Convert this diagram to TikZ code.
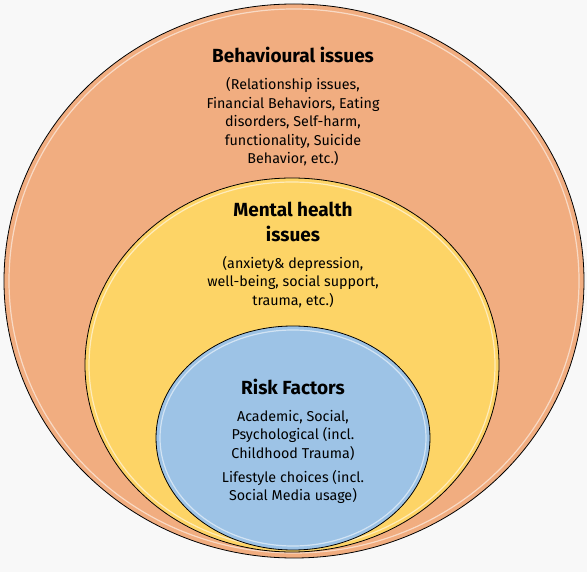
\documentclass[tikz,border=0pt]{standalone}
\usepackage{fontspec}
\setmainfont{Fira Sans}
\usepackage{xcolor}
\usetikzlibrary{shapes}
\definecolor{behav}{HTML}{F1AD80}
\definecolor{mental}{HTML}{FDD466}
\definecolor{risk}{HTML}{9DC3E6}
\definecolor{paper}{HTML}{F8F8F8}
\begin{document}
\begin{tikzpicture}[x=1pt, y=-1pt, ring/.style={draw=black, line width=0.8pt}, shine/.style={draw=white, opacity=0.55, line width=1.2pt}, head/.style={font=\fontsize{19}{25}\selectfont\bfseries, align=center}, body/.style={font=\fontsize{14.3}{18.5}\selectfont, align=center}]
\fill[paper] (0,0) rectangle (587,572);
\useasboundingbox (0,0) rectangle (587,572);
\filldraw[ring, fill=behav] (294,281) ellipse (290 and 277);
\draw[shine] (294,281) ellipse (285 and 272);
\filldraw[ring, fill=mental] (292,365) ellipse (207 and 187);
\draw[shine] (292,365) ellipse (203 and 183);
\filldraw[ring, fill=risk] (293,438) ellipse (137 and 112);
\draw[shine] (293,438) ellipse (133 and 108);
\node[head] (behavtitle) at (293,55) {Behavioural issues};
\node[body] (behavtext) at (293,122) {(Relationship issues,\\Financial Behaviors, Eating\\disorders, Self-harm,\\functionality, Suicide\\Behavior, etc.)};
\node[head] (mentaltitle) at (293,222) {Mental health\\issues};
\node[body] (mentaltext) at (293,282) {(anxiety\& depression,\\well-being, social support,\\trauma, etc.)};
\node[head] (risktitle) at (293,387) {Risk Factors};
\node[body] (risktext) at (293,435) {Academic, Social,\\Psychological (incl.\\Childhood Trauma)};
\node[body] (lifetext) at (293,487) {Lifestyle choices (incl.\\Social Media usage)};
\end{tikzpicture}
\end{document}
